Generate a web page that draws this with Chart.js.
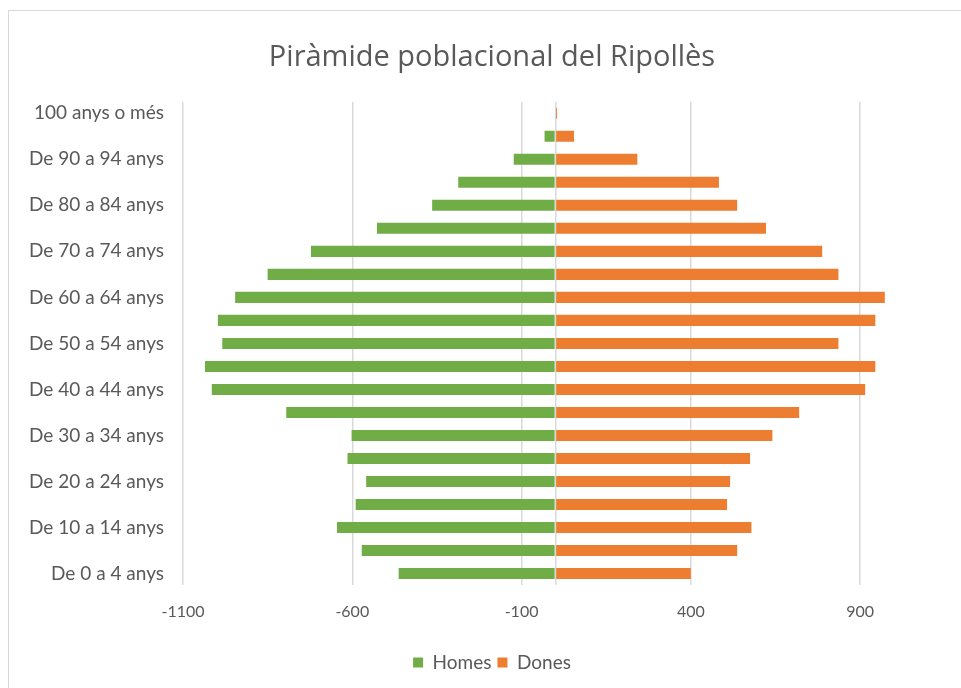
<!DOCTYPE html>
<html>
<head>
<meta charset="utf-8">
<script src="https://cdn.jsdelivr.net/npm/chart.js@4.4.1/dist/chart.umd.min.js"></script>
<style>
    html, body { margin: 0; padding: 0; background: #fff; overflow: hidden; }
    #wrap { position: relative; width: 961px; height: 688px; overflow: hidden; }
    #frame { position: absolute; left: 8px; top: 10px; width: 980px; height: 700px; border: 1px solid #d9d9d9; }
    canvas { position: absolute; left: 0; top: 0; }
</style>
</head>
<body>
<div id="wrap">
    <div id="frame"></div>
    <!-- a bit wider than the window: the plot runs off the right edge like the original -->
    <canvas id="myChart" width="984" height="688"></canvas>
</div>
<script>
    // age groups, bottom to top
    let ageGroups = [
        'De 0 a 4 anys', 'De 5 a 9 anys', 'De 10 a 14 anys', 'De 15 a 19 anys',
        'De 20 a 24 anys', 'De 25 a 29 anys', 'De 30 a 34 anys', 'De 35 a 39 anys',
        'De 40 a 44 anys', 'De 45 a 49 anys', 'De 50 a 54 anys', 'De 55 a 59 anys',
        'De 60 a 64 anys', 'De 65 a 69 anys', 'De 70 a 74 anys', 'De 75 a 79 anys',
        'De 80 a 84 anys', 'De 85 a 89 anys', 'De 90 a 94 anys', 'De 95 a 99 anys',
        '100 anys o més'
    ];

    // men drawn to the left, so negative
    let homes = [
        -463, -572, -645, -590, -559, -614, -602, -795, -1015, -1035, -984,
        -997, -946, -850, -722, -527, -364, -287, -123, -32, 0
    ];

    let dones = [
        400, 537, 579, 507, 516, 575, 641, 720, 915, 945, 836,
        945, 973, 836, 788, 622, 537, 483, 242, 55, 5
    ];

    let xTicks = [-1100, -600, -100, 0, 400, 900];

    const textColor = '#595959';
    const font = 'Lato, "Open Sans", sans-serif';

    let ctx = document.getElementById('myChart');
    let myChart = new Chart(ctx, {
        type: 'bar',
        data: {
            labels: ageGroups,
            datasets: [{
                label: 'Homes',
                data: homes,
                backgroundColor: '#70AD47',
                barPercentage: 0.48,
                categoryPercentage: 1
            }, {
                label: 'Dones',
                data: dones,
                backgroundColor: '#ED7D31',
                barPercentage: 0.48,
                categoryPercentage: 1
            }]
        },
        options: {
            indexAxis: 'y',
            responsive: false,
            animation: false,
            layout: {
                padding: { left: 0, right: 0, top: 0, bottom: 6 }
            },
            plugins: {
                title: {
                    display: true,
                    text: 'Piràmide poblacional del Ripollès',
                    color: textColor,
                    font: { family: '"Open Sans", sans-serif', size: 29, weight: 'normal' },
                    padding: { top: 40, bottom: 27 }
                },
                legend: {
                    position: 'bottom',
                    labels: {
                        color: textColor,
                        font: { family: font, size: 19 },
                        boxWidth: 10,
                        boxHeight: 10,
                        padding: 6
                    }
                },
                tooltip: { enabled: false }
            },
            scales: {
                x: {
                    min: -1100,
                    max: 1266,
                    afterBuildTicks: scale => {
                        scale.ticks = xTicks.map(v => ({ value: v }));
                    },
                    afterFit: scale => { scale.height = 62; },
                    ticks: {
                        color: textColor,
                        font: { family: font, size: 16 },
                        padding: 17,
                        callback: v => v === 0 ? '' : v
                    },
                    grid: { color: '#d9d9d9', lineWidth: 1.5, drawTicks: false },
                    border: { display: false }
                },
                y: {
                    stacked: true,
                    reverse: true,
                    afterFit: scale => { scale.width = 183; },
                    ticks: {
                        autoSkip: false,
                        color: textColor,
                        font: { family: font, size: 19 },
                        padding: 11,
                        callback: function (v) {
                            return v % 2 === 0 ? this.getLabelForValue(v) : '';
                        }
                    },
                    grid: { display: false },
                    border: { display: false }
                }
            }
        }
    });
</script>
</body>
</html>
